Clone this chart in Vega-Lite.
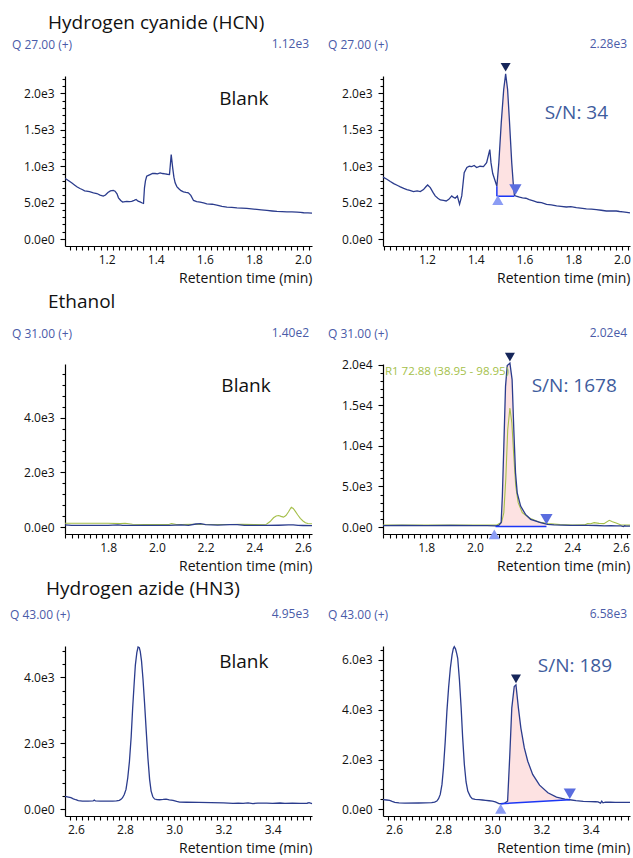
{
"$schema": "https://vega.github.io/schema/vega-lite/v6.json",
"padding": {"left": 10, "top": 14, "right": 2, "bottom": 0},
"bounds": "flush",
"spacing": 288,
"config": {
 "font": "Open Sans",
 "view": {"stroke": null},
 "axis": {"grid": false, "tickCount": 100, "domainColor": "#000", "tickColor": "#000", "labelColor": "#111", "labelFontSize": 12, "labelFont": "Open Sans", "titleFont": "Open Sans", "titleFontWeight": "normal", "titleColor": "#111", "labelOverlap": false, "labelFlush": false, "domainWidth": 1.2, "tickWidth": 1.1},
 "axisX": {"titleAnchor": "end", "titleFontSize": 14, "labelPadding": 4, "titlePadding": 6, "tickSize": 4},
 "axisY": {"labelPadding": 6},
 "title": {"fontWeight": "normal", "color": "#111"}
},
"datasets": {
 "hcn_b": [{"t":1.031,"v":831},{"t":1.045,"v":800},{"t":1.057,"v":772},{"t":1.07,"v":740},{"t":1.08,"v":715},{"t":1.091,"v":694},{"t":1.1,"v":680},{"t":1.11,"v":662},{"t":1.118,"v":657},{"t":1.13,"v":650},{"t":1.146,"v":635},{"t":1.16,"v":625},{"t":1.173,"v":603},{"t":1.186,"v":589},{"t":1.195,"v":605},{"t":1.205,"v":640},{"t":1.215,"v":662},{"t":1.227,"v":667},{"t":1.234,"v":657},{"t":1.242,"v":620},{"t":1.248,"v":566},{"t":1.257,"v":530},{"t":1.265,"v":507},{"t":1.275,"v":515},{"t":1.282,"v":516},{"t":1.292,"v":514},{"t":1.302,"v":516},{"t":1.312,"v":530},{"t":1.32,"v":543},{"t":1.328,"v":520},{"t":1.336,"v":511},{"t":1.345,"v":495},{"t":1.35,"v":489},{"t":1.354,"v":703},{"t":1.358,"v":800},{"t":1.363,"v":863},{"t":1.37,"v":875},{"t":1.377,"v":886},{"t":1.387,"v":900},{"t":1.397,"v":900},{"t":1.407,"v":895},{"t":1.418,"v":909},{"t":1.428,"v":900},{"t":1.438,"v":895},{"t":1.447,"v":890},{"t":1.456,"v":886},{"t":1.463,"v":1160},{"t":1.469,"v":977},{"t":1.474,"v":850},{"t":1.479,"v":772},{"t":1.486,"v":720},{"t":1.493,"v":694},{"t":1.503,"v":665},{"t":1.513,"v":648},{"t":1.523,"v":640},{"t":1.533,"v":635},{"t":1.543,"v":600},{"t":1.554,"v":530},{"t":1.567,"v":515},{"t":1.581,"v":507},{"t":1.595,"v":495},{"t":1.608,"v":484},{"t":1.63,"v":478},{"t":1.649,"v":466},{"t":1.67,"v":448},{"t":1.69,"v":438},{"t":1.71,"v":435},{"t":1.731,"v":429},{"t":1.75,"v":425},{"t":1.771,"v":420},{"t":1.79,"v":415},{"t":1.812,"v":406},{"t":1.83,"v":400},{"t":1.853,"v":393},{"t":1.875,"v":385},{"t":1.894,"v":379},{"t":1.915,"v":376},{"t":1.935,"v":374},{"t":1.955,"v":372},{"t":1.976,"v":370},{"t":1.99,"v":365},{"t":2.003,"v":361},{"t":2.02,"v":358},{"t":2.037,"v":356}],
 "hcn_s": [{"t":1.02,"v":850},{"t":1.036,"v":821},{"t":1.05,"v":790},{"t":1.064,"v":761},{"t":1.08,"v":735},{"t":1.091,"v":716},{"t":1.105,"v":695},{"t":1.118,"v":679},{"t":1.13,"v":668},{"t":1.145,"v":651},{"t":1.16,"v":660},{"t":1.173,"v":651},{"t":1.186,"v":679},{"t":1.195,"v":715},{"t":1.203,"v":743},{"t":1.214,"v":706},{"t":1.225,"v":640},{"t":1.234,"v":592},{"t":1.245,"v":560},{"t":1.255,"v":537},{"t":1.268,"v":530},{"t":1.279,"v":523},{"t":1.29,"v":545},{"t":1.302,"v":592},{"t":1.308,"v":575},{"t":1.316,"v":560},{"t":1.325,"v":590},{"t":1.334,"v":477},{"t":1.343,"v":592},{"t":1.353,"v":913},{"t":1.364,"v":982},{"t":1.374,"v":1000},{"t":1.384,"v":995},{"t":1.394,"v":1010},{"t":1.404,"v":982},{"t":1.418,"v":1000},{"t":1.432,"v":995},{"t":1.445,"v":1050},{"t":1.458,"v":1229},{"t":1.463,"v":1046},{"t":1.47,"v":900},{"t":1.478,"v":817},{"t":1.487,"v":725},{"t":1.495,"v":1046},{"t":1.505,"v":1597},{"t":1.515,"v":2055},{"t":1.523,"v":2270},{"t":1.531,"v":2055},{"t":1.539,"v":1597},{"t":1.548,"v":1046},{"t":1.555,"v":725},{"t":1.559,"v":600},{"t":1.566,"v":588},{"t":1.58,"v":575},{"t":1.592,"v":565},{"t":1.606,"v":560},{"t":1.62,"v":541},{"t":1.637,"v":525},{"t":1.654,"v":505},{"t":1.67,"v":500},{"t":1.691,"v":477},{"t":1.71,"v":470},{"t":1.732,"v":454},{"t":1.75,"v":448},{"t":1.772,"v":440},{"t":1.79,"v":445},{"t":1.813,"v":431},{"t":1.83,"v":425},{"t":1.854,"v":413},{"t":1.875,"v":410},{"t":1.895,"v":404},{"t":1.915,"v":395},{"t":1.936,"v":385},{"t":1.955,"v":388},{"t":1.977,"v":385},{"t":1.99,"v":378},{"t":2.004,"v":372},{"t":2.02,"v":366},{"t":2.033,"v":358}],
 "hcn_peak": [{"t":1.487,"v":725,"base":588},{"t":1.495,"v":1046,"base":588},{"t":1.505,"v":1597,"base":588},{"t":1.515,"v":2055,"base":588},{"t":1.523,"v":2270,"base":588},{"t":1.531,"v":2055,"base":588},{"t":1.539,"v":1597,"base":588},{"t":1.548,"v":1046,"base":588},{"t":1.555,"v":725,"base":588},{"t":1.559,"v":600,"base":588}],
 "hcn_base": [{"t":1.487,"t2":1.559,"v":588,"v2":588},{"t":1.487,"t2":1.487,"v":588,"v2":725}],
 "hcn_mk": [{"t":1.523,"v":2360,"kind":"apex"},{"t":1.491,"v":535,"kind":"start"},{"t":1.563,"v":679,"kind":"end"}],
 "eth_b": [{"t":1.623,"v":80,"s":"main"},{"t":1.65,"v":60,"s":"main"},{"t":1.7,"v":60,"s":"main"},{"t":1.75,"v":60,"s":"main"},{"t":1.8,"v":60,"s":"main"},{"t":1.84,"v":75,"s":"main"},{"t":1.86,"v":60,"s":"main"},{"t":1.9,"v":60,"s":"main"},{"t":1.95,"v":60,"s":"main"},{"t":2.0,"v":60,"s":"main"},{"t":2.05,"v":60,"s":"main"},{"t":2.1,"v":75,"s":"main"},{"t":2.13,"v":60,"s":"main"},{"t":2.16,"v":110,"s":"main"},{"t":2.18,"v":125,"s":"main"},{"t":2.2,"v":90,"s":"main"},{"t":2.25,"v":70,"s":"main"},{"t":2.3,"v":90,"s":"main"},{"t":2.33,"v":85,"s":"main"},{"t":2.36,"v":60,"s":"main"},{"t":2.4,"v":60,"s":"main"},{"t":2.45,"v":60,"s":"main"},{"t":2.5,"v":65,"s":"main"},{"t":2.54,"v":75,"s":"main"},{"t":2.56,"v":80,"s":"main"},{"t":2.58,"v":60,"s":"main"},{"t":2.6,"v":55,"s":"main"},{"t":2.637,"v":50,"s":"main"},
  {"t":1.623,"v":140,"s":"ref"},{"t":1.7,"v":140,"s":"ref"},{"t":1.8,"v":140,"s":"ref"},{"t":1.85,"v":125,"s":"ref"},{"t":1.87,"v":140,"s":"ref"},{"t":1.9,"v":100,"s":"ref"},{"t":1.95,"v":90,"s":"ref"},{"t":2.0,"v":90,"s":"ref"},{"t":2.05,"v":90,"s":"ref"},{"t":2.06,"v":125,"s":"ref"},{"t":2.08,"v":90,"s":"ref"},{"t":2.1,"v":90,"s":"ref"},{"t":2.15,"v":100,"s":"ref"},{"t":2.2,"v":90,"s":"ref"},{"t":2.25,"v":90,"s":"ref"},{"t":2.3,"v":90,"s":"ref"},{"t":2.35,"v":95,"s":"ref"},{"t":2.4,"v":90,"s":"ref"},{"t":2.45,"v":100,"s":"ref"},{"t":2.465,"v":200,"s":"ref"},{"t":2.479,"v":338,"s":"ref"},{"t":2.49,"v":400,"s":"ref"},{"t":2.5,"v":423,"s":"ref"},{"t":2.51,"v":390,"s":"ref"},{"t":2.52,"v":362,"s":"ref"},{"t":2.53,"v":420,"s":"ref"},{"t":2.54,"v":550,"s":"ref"},{"t":2.552,"v":725,"s":"ref"},{"t":2.56,"v":680,"s":"ref"},{"t":2.568,"v":580,"s":"ref"},{"t":2.578,"v":450,"s":"ref"},{"t":2.589,"v":314,"s":"ref"},{"t":2.6,"v":220,"s":"ref"},{"t":2.61,"v":157,"s":"ref"},{"t":2.62,"v":130,"s":"ref"},{"t":2.637,"v":120,"s":"ref"}],
 "eth_s": [{"t":1.623,"v":180,"s":"main"},{"t":1.7,"v":190,"s":"main"},{"t":1.8,"v":180,"s":"main"},{"t":1.9,"v":190,"s":"main"},{"t":2.0,"v":180,"s":"main"},{"t":2.05,"v":170,"s":"main"},{"t":2.085,"v":150,"s":"main"},{"t":2.098,"v":200,"s":"main"},{"t":2.108,"v":530,"s":"main"},{"t":2.113,"v":3810,"s":"main"},{"t":2.119,"v":9960,"s":"main"},{"t":2.126,"v":17340,"s":"main"},{"t":2.133,"v":19900,"s":"main"},{"t":2.144,"v":20200,"s":"main"},{"t":2.153,"v":18170,"s":"main"},{"t":2.16,"v":12000,"s":"main"},{"t":2.167,"v":6680,"s":"main"},{"t":2.174,"v":4220,"s":"main"},{"t":2.188,"v":2580,"s":"main"},{"t":2.208,"v":1560,"s":"main"},{"t":2.229,"v":950,"s":"main"},{"t":2.27,"v":530,"s":"main"},{"t":2.298,"v":330,"s":"main"},{"t":2.325,"v":260,"s":"main"},{"t":2.36,"v":230,"s":"main"},{"t":2.394,"v":210,"s":"main"},{"t":2.43,"v":215,"s":"main"},{"t":2.463,"v":205,"s":"main"},{"t":2.5,"v":190,"s":"main"},{"t":2.531,"v":150,"s":"main"},{"t":2.56,"v":160,"s":"main"},{"t":2.58,"v":130,"s":"main"},{"t":2.6,"v":140,"s":"main"},{"t":2.61,"v":60,"s":"main"},{"t":2.615,"v":150,"s":"main"},{"t":2.62,"v":110,"s":"main"},{"t":2.637,"v":120,"s":"main"},
  {"t":1.623,"v":250,"s":"ref"},{"t":1.8,"v":250,"s":"ref"},{"t":2.0,"v":250,"s":"ref"},{"t":2.09,"v":240,"s":"ref"},{"t":2.11,"v":600,"s":"ref"},{"t":2.119,"v":1760,"s":"ref"},{"t":2.127,"v":5870,"s":"ref"},{"t":2.135,"v":12000,"s":"ref"},{"t":2.144,"v":14670,"s":"ref"},{"t":2.152,"v":12830,"s":"ref"},{"t":2.16,"v":8730,"s":"ref"},{"t":2.168,"v":5040,"s":"ref"},{"t":2.178,"v":3000,"s":"ref"},{"t":2.195,"v":1760,"s":"ref"},{"t":2.222,"v":1150,"s":"ref"},{"t":2.263,"v":620,"s":"ref"},{"t":2.3,"v":420,"s":"ref"},{"t":2.35,"v":300,"s":"ref"},{"t":2.4,"v":250,"s":"ref"},{"t":2.45,"v":260,"s":"ref"},{"t":2.463,"v":415,"s":"ref"},{"t":2.475,"v":400,"s":"ref"},{"t":2.49,"v":540,"s":"ref"},{"t":2.51,"v":450,"s":"ref"},{"t":2.53,"v":420,"s":"ref"},{"t":2.552,"v":830,"s":"ref"},{"t":2.565,"v":650,"s":"ref"},{"t":2.58,"v":500,"s":"ref"},{"t":2.6,"v":250,"s":"ref"},{"t":2.637,"v":230,"s":"ref"}],
 "eth_peak": [{"t":2.085,"v":150,"base":60},{"t":2.098,"v":200,"base":60},{"t":2.108,"v":530,"base":60},{"t":2.113,"v":3810,"base":60},{"t":2.119,"v":9960,"base":60},{"t":2.126,"v":17340,"base":60},{"t":2.133,"v":19900,"base":60},{"t":2.144,"v":20200,"base":60},{"t":2.153,"v":18170,"base":60},{"t":2.16,"v":12000,"base":60},{"t":2.167,"v":6680,"base":60},{"t":2.174,"v":4220,"base":60},{"t":2.188,"v":2580,"base":60},{"t":2.208,"v":1560,"base":60},{"t":2.229,"v":950,"base":60},{"t":2.27,"v":530,"base":60},{"t":2.294,"v":340,"base":60}],
 "eth_base": [{"t":2.085,"t2":2.294,"v":60,"v2":60}],
 "eth_mk": [{"t":2.144,"v":20950,"kind":"apex"},{"t":2.08,"v":-900,"kind":"start"},{"t":2.294,"v":950,"kind":"end"}],
 "hn3_b": [{"t":2.556,"v":392},{"t":2.57,"v":370},{"t":2.58,"v":352},{"t":2.59,"v":320},{"t":2.6,"v":291},{"t":2.61,"v":265},{"t":2.627,"v":251},{"t":2.65,"v":250},{"t":2.67,"v":255},{"t":2.675,"v":280},{"t":2.68,"v":255},{"t":2.7,"v":251},{"t":2.72,"v":250},{"t":2.75,"v":251},{"t":2.765,"v":255},{"t":2.777,"v":271},{"t":2.785,"v":310},{"t":2.79,"v":352},{"t":2.797,"v":450},{"t":2.804,"v":603},{"t":2.811,"v":950},{"t":2.818,"v":1457},{"t":2.825,"v":2200},{"t":2.831,"v":3065},{"t":2.837,"v":3800},{"t":2.842,"v":4372},{"t":2.848,"v":4750},{"t":2.853,"v":4920},{"t":2.858,"v":4900},{"t":2.862,"v":4780},{"t":2.867,"v":4500},{"t":2.873,"v":3950},{"t":2.879,"v":3266},{"t":2.886,"v":2400},{"t":2.893,"v":1558},{"t":2.9,"v":900},{"t":2.906,"v":553},{"t":2.913,"v":380},{"t":2.92,"v":312},{"t":2.93,"v":295},{"t":2.94,"v":291},{"t":2.955,"v":300},{"t":2.967,"v":312},{"t":2.98,"v":290},{"t":2.995,"v":271},{"t":3.01,"v":240},{"t":3.022,"v":221},{"t":3.05,"v":215},{"t":3.1,"v":211},{"t":3.15,"v":205},{"t":3.2,"v":195},{"t":3.239,"v":181},{"t":3.26,"v":190},{"t":3.28,"v":180},{"t":3.3,"v":195},{"t":3.32,"v":175},{"t":3.34,"v":190},{"t":3.376,"v":191},{"t":3.4,"v":180},{"t":3.43,"v":192},{"t":3.45,"v":178},{"t":3.48,"v":190},{"t":3.512,"v":181},{"t":3.54,"v":185},{"t":3.548,"v":200},{"t":3.56,"v":171}],
 "hn3_s": [{"t":2.555,"v":387},{"t":2.57,"v":375},{"t":2.582,"v":360},{"t":2.592,"v":320},{"t":2.603,"v":280},{"t":2.62,"v":260},{"t":2.644,"v":253},{"t":2.7,"v":255},{"t":2.753,"v":267},{"t":2.765,"v":290},{"t":2.774,"v":333},{"t":2.781,"v":430},{"t":2.788,"v":600},{"t":2.795,"v":1000},{"t":2.801,"v":1667},{"t":2.808,"v":2700},{"t":2.815,"v":3933},{"t":2.822,"v":4900},{"t":2.829,"v":5667},{"t":2.836,"v":6200},{"t":2.841,"v":6450},{"t":2.845,"v":6533},{"t":2.85,"v":6450},{"t":2.855,"v":6250},{"t":2.859,"v":6067},{"t":2.866,"v":5200},{"t":2.873,"v":4067},{"t":2.879,"v":2900},{"t":2.886,"v":1800},{"t":2.893,"v":1100},{"t":2.9,"v":733},{"t":2.91,"v":520},{"t":2.918,"v":427},{"t":2.93,"v":400},{"t":2.945,"v":387},{"t":2.96,"v":375},{"t":2.973,"v":360},{"t":2.987,"v":345},{"t":3.0,"v":333},{"t":3.012,"v":300},{"t":3.027,"v":227},{"t":3.034,"v":224},{"t":3.048,"v":235},{"t":3.062,"v":332},{"t":3.071,"v":2200},{"t":3.079,"v":4064},{"t":3.089,"v":4932},{"t":3.096,"v":5000},{"t":3.106,"v":4064},{"t":3.116,"v":3264},{"t":3.13,"v":2464},{"t":3.144,"v":1932},{"t":3.164,"v":1400},{"t":3.192,"v":972},{"t":3.226,"v":664},{"t":3.261,"v":492},{"t":3.295,"v":412},{"t":3.315,"v":384},{"t":3.34,"v":350},{"t":3.37,"v":320},{"t":3.4,"v":310},{"t":3.42,"v":305},{"t":3.43,"v":300},{"t":3.44,"v":250},{"t":3.445,"v":330},{"t":3.45,"v":260},{"t":3.46,"v":290},{"t":3.48,"v":285},{"t":3.5,"v":280},{"t":3.53,"v":280},{"t":3.56,"v":280}],
 "hn3_peak": [{"t":3.034,"v":224,"base":224},{"t":3.048,"v":235,"base":232},{"t":3.062,"v":332,"base":240},{"t":3.071,"v":2200,"base":245},{"t":3.079,"v":4064,"base":250},{"t":3.089,"v":4932,"base":255},{"t":3.096,"v":5000,"base":259},{"t":3.106,"v":4064,"base":265},{"t":3.116,"v":3264,"base":271},{"t":3.13,"v":2464,"base":279},{"t":3.144,"v":1932,"base":287},{"t":3.164,"v":1400,"base":298},{"t":3.192,"v":972,"base":314},{"t":3.226,"v":664,"base":333},{"t":3.261,"v":492,"base":353},{"t":3.295,"v":412,"base":373},{"t":3.315,"v":384,"base":384}],
 "hn3_base": [{"t":3.034,"t2":3.315,"v":224,"v2":384}],
 "hn3_mk": [{"t":3.096,"v":5240,"kind":"apex"},{"t":3.034,"v":20,"kind":"start"},{"t":3.315,"v":624,"kind":"end"}]
},
"vconcat": [
 {
  "title": {"text": "Hydrogen cyanide (HCN)", "anchor": "start", "baseline": "middle", "fontSize": 19, "fontWeight": "normal", "color": "#111", "dx": 36, "offset": -4},
  "bounds": "flush",
  "spacing": 71,
  "hconcat": [
   {
    "width": 247, "height": 170,
    "title": {"text": "Q 27.00 (+)", "anchor": "start", "frame": "group", "baseline": "middle", "dx": -53, "offset": -19, "fontSize": 12, "fontWeight": "normal", "color": "#4a5ba8"},
    "layer": [
     {"data": {"name": "hcn_b"}, "mark": {"type": "line", "color": "#2b3c8d", "strokeWidth": 1.3},
      "encoding": {
       "x": {"field": "t", "type": "quantitative", "title": "Retention time (min)", "scale": {"domain": [1.03, 2.037], "nice": false, "zero": false}, "axis": {"tickCount": 100, "values": [1.05,1.075,1.1,1.125,1.15,1.175,1.2,1.225,1.25,1.275,1.3,1.325,1.35,1.375,1.4,1.425,1.45,1.475,1.5,1.525,1.55,1.575,1.6,1.625,1.65,1.675,1.7,1.725,1.75,1.775,1.8,1.825,1.85,1.875,1.9,1.925,1.95,1.975,2.0,2.025], "labelExpr": "abs(datum.value * 5 - round(datum.value * 5)) < 0.001 ? format(datum.value, '.1f') : ''"}},
       "y": {"field": "v", "type": "quantitative", "title": null, "scale": {"domain": [-96, 2240], "nice": false, "zero": false}, "axis": {"tickCount": 100, "values": [0,100,200,300,400,500,600,700,800,900,1000,1100,1200,1300,1400,1500,1600,1700,1800,1900,2000,2100,2200], "labelExpr": "datum.value % 500 === 0 ? replace(format(datum.value, '.1e'), '+', '') : ''", "tickSize": {"condition": {"test": "datum.value % 500 === 0", "value": 5}, "value": 3}}}
      }},
     {"data": {"values": [{"label": "Blank"}]}, "mark": {"type": "text", "fontSize": 19, "color": "#111"}, "encoding": {"x": {"datum": 1.759, "type": "quantitative"}, "y": {"datum": 1927, "type": "quantitative"}, "text": {"field": "label", "type": "nominal"}}},
     {"data": {"values": [{"label": "1.12e3"}]}, "mark": {"type": "text", "fontSize": 12, "color": "#4a5ba8", "align": "right", "baseline": "middle", "dy": -32, "dx": -3}, "encoding": {"x": {"datum": 2.037, "type": "quantitative"}, "y": {"datum": 2240, "type": "quantitative"}, "text": {"field": "label", "type": "nominal"}}}
    ]
   },
   {
    "width": 247, "height": 170,
    "title": {"text": "Q 27.00 (+)", "anchor": "start", "frame": "group", "baseline": "middle", "dx": -55, "offset": -19, "fontSize": 12, "fontWeight": "normal", "color": "#4a5ba8"},
    "layer": [
     {"data": {"name": "hcn_peak"}, "mark": {"type": "area", "color": "#fde2e2"}, "encoding": {"x": {"field": "t", "type": "quantitative", "title": "Retention time (min)"}, "y": {"field": "v", "type": "quantitative", "title": null}, "y2": {"field": "base", "title": null}}},
     {"data": {"name": "hcn_s"}, "mark": {"type": "line", "color": "#2b3c8d", "strokeWidth": 1.3},
      "encoding": {
       "x": {"field": "t", "type": "quantitative", "title": "Retention time (min)", "scale": {"domain": [1.02, 2.033], "nice": false, "zero": false}, "axis": {"tickCount": 100, "values": [1.025,1.05,1.075,1.1,1.125,1.15,1.175,1.2,1.225,1.25,1.275,1.3,1.325,1.35,1.375,1.4,1.425,1.45,1.475,1.5,1.525,1.55,1.575,1.6,1.625,1.65,1.675,1.7,1.725,1.75,1.775,1.8,1.825,1.85,1.875,1.9,1.925,1.95,1.975,2.0,2.025], "labelExpr": "abs(datum.value * 5 - round(datum.value * 5)) < 0.001 ? format(datum.value, '.1f') : ''"}},
       "y": {"field": "v", "type": "quantitative", "title": null, "scale": {"domain": [-96, 2240], "nice": false, "zero": false}, "axis": {"tickCount": 100, "values": [0,100,200,300,400,500,600,700,800,900,1000,1100,1200,1300,1400,1500,1600,1700,1800,1900,2000,2100,2200], "labelExpr": "datum.value % 500 === 0 ? replace(format(datum.value, '.1e'), '+', '') : ''", "tickSize": {"condition": {"test": "datum.value % 500 === 0", "value": 5}, "value": 3}}}
      }},
     {"data": {"name": "hcn_base"}, "mark": {"type": "rule", "color": "#1c37f5", "strokeWidth": 1.5}, "encoding": {"x": {"field": "t", "type": "quantitative", "title": "Retention time (min)"}, "y": {"field": "v", "type": "quantitative", "title": null}, "x2": {"field": "t2", "title": null}, "y2": {"field": "v2", "title": null}}},
     {"data": {"name": "hcn_mk"}, "mark": {"type": "point", "filled": true, "opacity": 1}, "encoding": {"x": {"field": "t", "type": "quantitative", "title": "Retention time (min)"}, "y": {"field": "v", "type": "quantitative", "title": null}, "shape": {"field": "kind", "type": "nominal", "scale": {"domain": ["apex","start","end"], "range": ["triangle-down","triangle-up","triangle-down"]}, "legend": null}, "color": {"field": "kind", "type": "nominal", "scale": {"domain": ["apex","start","end"], "range": ["#16265a","#8b9cf4","#5a6ddf"]}, "legend": null}, "size": {"field": "kind", "type": "nominal", "scale": {"domain": ["apex","start","end"], "range": [100,150,140]}, "legend": null}}},
     {"data": {"values": [{"label": "S/N: 34"}]}, "mark": {"type": "text", "fontSize": 19, "color": "#3e5c9d"}, "encoding": {"x": {"datum": 1.813, "type": "quantitative"}, "y": {"datum": 1734, "type": "quantitative"}, "text": {"field": "label", "type": "nominal"}}},
     {"data": {"values": [{"label": "2.28e3"}]}, "mark": {"type": "text", "fontSize": 12, "color": "#4a5ba8", "align": "right", "baseline": "middle", "dy": -32, "dx": -3}, "encoding": {"x": {"datum": 2.033, "type": "quantitative"}, "y": {"datum": 2240, "type": "quantitative"}, "text": {"field": "label", "type": "nominal"}}}
    ]
   }
  ]
 },
 {
  "bounds": "flush",
  "spacing": 282,
  "vconcat": [
   {
    "title": {"text": "Ethanol", "anchor": "start", "baseline": "middle", "fontSize": 19, "fontWeight": "normal", "color": "#111", "dx": 36, "offset": 6},
    "bounds": "flush",
    "spacing": 71,
    "hconcat": [
     {
      "width": 247, "height": 170,
      "title": {"text": "Q 31.00 (+)", "anchor": "start", "frame": "group", "baseline": "middle", "dx": -53, "offset": -19, "fontSize": 12, "fontWeight": "normal", "color": "#4a5ba8"},
      "layer": [
       {"data": {"name": "eth_b"}, "transform": [{"filter": "datum.s === 'ref'"}], "mark": {"type": "line", "color": "#a5bf4a", "strokeWidth": 1.1}, "encoding": {"x": {"field": "t", "type": "quantitative", "title": "Retention time (min)"}, "y": {"field": "v", "type": "quantitative", "title": null}}},
       {"data": {"name": "eth_b"}, "transform": [{"filter": "datum.s === 'main'"}], "mark": {"type": "line", "color": "#2b3c8d", "strokeWidth": 1.3},
        "encoding": {
         "x": {"field": "t", "type": "quantitative", "title": "Retention time (min)", "scale": {"domain": [1.623, 2.637], "nice": false, "zero": false}, "axis": {"tickCount": 100, "values": [1.625,1.65,1.675,1.7,1.725,1.75,1.775,1.8,1.825,1.85,1.875,1.9,1.925,1.95,1.975,2.0,2.025,2.05,2.075,2.1,2.125,2.15,2.175,2.2,2.225,2.25,2.275,2.3,2.325,2.35,2.375,2.4,2.425,2.45,2.475,2.5,2.525,2.55,2.575,2.6,2.625], "labelExpr": "abs(datum.value * 5 - round(datum.value * 5)) < 0.001 ? format(datum.value, '.1f') : ''"}},
         "y": {"field": "v", "type": "quantitative", "title": null, "scale": {"domain": [-256, 5970], "nice": false, "zero": false}, "axis": {"tickCount": 100, "values": [0,400,800,1200,1600,2000,2400,2800,3200,3600,4000,4400,4800,5200,5600], "labelExpr": "datum.value % 2000 === 0 ? replace(format(datum.value, '.1e'), '+', '') : ''", "tickSize": {"condition": {"test": "datum.value % 2000 === 0", "value": 5}, "value": 3}}}
        }},
       {"data": {"values": [{"label": "Blank"}]}, "mark": {"type": "text", "fontSize": 19, "color": "#111"}, "encoding": {"x": {"datum": 2.366, "type": "quantitative"}, "y": {"datum": 5160, "type": "quantitative"}, "text": {"field": "label", "type": "nominal"}}},
       {"data": {"values": [{"label": "1.40e2"}]}, "mark": {"type": "text", "fontSize": 12, "color": "#4a5ba8", "align": "right", "baseline": "middle", "dy": -31, "dx": -3}, "encoding": {"x": {"datum": 2.637, "type": "quantitative"}, "y": {"datum": 5970, "type": "quantitative"}, "text": {"field": "label", "type": "nominal"}}}
      ]
     },
     {
      "width": 247, "height": 170,
      "title": {"text": "Q 31.00 (+)", "anchor": "start", "frame": "group", "baseline": "middle", "dx": -55, "offset": -19, "fontSize": 12, "fontWeight": "normal", "color": "#4a5ba8"},
      "layer": [
       {"data": {"name": "eth_peak"}, "mark": {"type": "area", "color": "#fde2e2"}, "encoding": {"x": {"field": "t", "type": "quantitative", "title": "Retention time (min)"}, "y": {"field": "v", "type": "quantitative", "title": null}, "y2": {"field": "base", "title": null}}},
       {"data": {"name": "eth_s"}, "transform": [{"filter": "datum.s === 'ref'"}], "mark": {"type": "line", "color": "#a5bf4a", "strokeWidth": 1.1}, "encoding": {"x": {"field": "t", "type": "quantitative", "title": "Retention time (min)"}, "y": {"field": "v", "type": "quantitative", "title": null}}},
       {"data": {"name": "eth_s"}, "transform": [{"filter": "datum.s === 'main'"}], "mark": {"type": "line", "color": "#2b3c8d", "strokeWidth": 1.3},
        "encoding": {
         "x": {"field": "t", "type": "quantitative", "title": "Retention time (min)", "scale": {"domain": [1.623, 2.637], "nice": false, "zero": false}, "axis": {"tickCount": 100, "values": [1.625,1.65,1.675,1.7,1.725,1.75,1.775,1.8,1.825,1.85,1.875,1.9,1.925,1.95,1.975,2.0,2.025,2.05,2.075,2.1,2.125,2.15,2.175,2.2,2.225,2.25,2.275,2.3,2.325,2.35,2.375,2.4,2.425,2.45,2.475,2.5,2.525,2.55,2.575,2.6,2.625], "labelExpr": "abs(datum.value * 5 - round(datum.value * 5)) < 0.001 ? format(datum.value, '.1f') : ''"}},
         "y": {"field": "v", "type": "quantitative", "title": null, "scale": {"domain": [-860, 20100], "nice": false, "zero": false}, "axis": {"tickCount": 100, "values": [0,1000,2000,3000,4000,5000,6000,7000,8000,9000,10000,11000,12000,13000,14000,15000,16000,17000,18000,19000,20000], "labelExpr": "datum.value % 5000 === 0 ? replace(format(datum.value, '.1e'), '+', '') : ''", "tickSize": {"condition": {"test": "datum.value % 5000 === 0", "value": 5}, "value": 3}}}
        }},
       {"data": {"name": "eth_base"}, "mark": {"type": "rule", "color": "#1c37f5", "strokeWidth": 1.5}, "encoding": {"x": {"field": "t", "type": "quantitative", "title": "Retention time (min)"}, "y": {"field": "v", "type": "quantitative", "title": null}, "x2": {"field": "t2", "title": null}, "y2": {"field": "v2", "title": null}}},
       {"data": {"name": "eth_mk"}, "mark": {"type": "point", "filled": true, "opacity": 1}, "encoding": {"x": {"field": "t", "type": "quantitative", "title": "Retention time (min)"}, "y": {"field": "v", "type": "quantitative", "title": null}, "shape": {"field": "kind", "type": "nominal", "scale": {"domain": ["apex","start","end"], "range": ["triangle-down","triangle-up","triangle-down"]}, "legend": null}, "color": {"field": "kind", "type": "nominal", "scale": {"domain": ["apex","start","end"], "range": ["#16265a","#8b9cf4","#5a6ddf"]}, "legend": null}, "size": {"field": "kind", "type": "nominal", "scale": {"domain": ["apex","start","end"], "range": [100,150,140]}, "legend": null}}},
       {"data": {"values": [{"label": "R1 72.88 (38.95 - 98.95)"}]}, "mark": {"type": "text", "fontSize": 11.5, "color": "#a5bf4a", "align": "left", "baseline": "middle"}, "encoding": {"x": {"datum": 1.631, "type": "quantitative"}, "y": {"datum": 19065, "type": "quantitative"}, "text": {"field": "label", "type": "nominal"}}},
       {"data": {"values": [{"label": "S/N: 1678"}]}, "mark": {"type": "text", "fontSize": 19, "color": "#3e5c9d"}, "encoding": {"x": {"datum": 2.408, "type": "quantitative"}, "y": {"datum": 17340, "type": "quantitative"}, "text": {"field": "label", "type": "nominal"}}},
       {"data": {"values": [{"label": "2.02e4"}]}, "mark": {"type": "text", "fontSize": 12, "color": "#4a5ba8", "align": "right", "baseline": "middle", "dy": -31, "dx": -3}, "encoding": {"x": {"datum": 2.637, "type": "quantitative"}, "y": {"datum": 20100, "type": "quantitative"}, "text": {"field": "label", "type": "nominal"}}}
      ]
     }
    ]
   },
   {
    "title": {"text": "Hydrogen azide (HN3)", "anchor": "start", "baseline": "middle", "fontSize": 19, "fontWeight": "normal", "color": "#111", "dx": 36, "offset": 0},
    "bounds": "flush",
    "spacing": 71,
    "hconcat": [
     {
      "width": 247, "height": 170,
      "title": {"text": "Q 43.00 (+)", "anchor": "start", "frame": "group", "baseline": "middle", "dx": -55, "offset": -19, "fontSize": 12, "fontWeight": "normal", "color": "#4a5ba8"},
      "layer": [
       {"data": {"name": "hn3_b"}, "mark": {"type": "line", "color": "#2b3c8d", "strokeWidth": 1.3},
        "encoding": {
         "x": {"field": "t", "type": "quantitative", "title": "Retention time (min)", "scale": {"domain": [2.556, 3.56], "nice": false, "zero": false}, "axis": {"tickCount": 100, "values": [2.575,2.6,2.625,2.65,2.675,2.7,2.725,2.75,2.775,2.8,2.825,2.85,2.875,2.9,2.925,2.95,2.975,3.0,3.025,3.05,3.075,3.1,3.125,3.15,3.175,3.2,3.225,3.25,3.275,3.3,3.325,3.35,3.375,3.4,3.425,3.45,3.475,3.5,3.525,3.55], "labelExpr": "abs(datum.value * 5 - round(datum.value * 5)) < 0.001 ? format(datum.value, '.1f') : ''"}},
         "y": {"field": "v", "type": "quantitative", "title": null, "scale": {"domain": [-202, 4950], "nice": false, "zero": false}, "axis": {"tickCount": 100, "values": [0,400,800,1200,1600,2000,2400,2800,3200,3600,4000,4400,4800], "labelExpr": "datum.value % 2000 === 0 ? replace(format(datum.value, '.1e'), '+', '') : ''", "tickSize": {"condition": {"test": "datum.value % 2000 === 0", "value": 5}, "value": 3}}}
        }},
       {"data": {"values": [{"label": "Blank"}]}, "mark": {"type": "text", "fontSize": 19, "color": "#111"}, "encoding": {"x": {"datum": 3.283, "type": "quantitative"}, "y": {"datum": 4474, "type": "quantitative"}, "text": {"field": "label", "type": "nominal"}}},
       {"data": {"values": [{"label": "4.95e3"}]}, "mark": {"type": "text", "fontSize": 12, "color": "#4a5ba8", "align": "right", "baseline": "middle", "dy": -32, "dx": -3}, "encoding": {"x": {"datum": 3.56, "type": "quantitative"}, "y": {"datum": 4950, "type": "quantitative"}, "text": {"field": "label", "type": "nominal"}}}
      ]
     },
     {
      "width": 247, "height": 170,
      "title": {"text": "Q 43.00 (+)", "anchor": "start", "frame": "group", "baseline": "middle", "dx": -55, "offset": -19, "fontSize": 12, "fontWeight": "normal", "color": "#4a5ba8"},
      "layer": [
       {"data": {"name": "hn3_peak"}, "mark": {"type": "area", "color": "#fde2e2"}, "encoding": {"x": {"field": "t", "type": "quantitative", "title": "Retention time (min)"}, "y": {"field": "v", "type": "quantitative", "title": null}, "y2": {"field": "base", "title": null}}},
       {"data": {"name": "hn3_s"}, "mark": {"type": "line", "color": "#2b3c8d", "strokeWidth": 1.3},
        "encoding": {
         "x": {"field": "t", "type": "quantitative", "title": "Retention time (min)", "scale": {"domain": [2.555, 3.56], "nice": false, "zero": false}, "axis": {"tickCount": 100, "values": [2.575,2.6,2.625,2.65,2.675,2.7,2.725,2.75,2.775,2.8,2.825,2.85,2.875,2.9,2.925,2.95,2.975,3.0,3.025,3.05,3.075,3.1,3.125,3.15,3.175,3.2,3.225,3.25,3.275,3.3,3.325,3.35,3.375,3.4,3.425,3.45,3.475,3.5,3.525,3.55], "labelExpr": "abs(datum.value * 5 - round(datum.value * 5)) < 0.001 ? format(datum.value, '.1f') : ''"}},
         "y": {"field": "v", "type": "quantitative", "title": null, "scale": {"domain": [-268, 6560], "nice": false, "zero": false}, "axis": {"tickCount": 100, "values": [0,400,800,1200,1600,2000,2400,2800,3200,3600,4000,4400,4800,5200,5600,6000,6400], "labelExpr": "datum.value % 2000 === 0 ? replace(format(datum.value, '.1e'), '+', '') : ''", "tickSize": {"condition": {"test": "datum.value % 2000 === 0", "value": 5}, "value": 3}}}
        }},
       {"data": {"name": "hn3_base"}, "mark": {"type": "rule", "color": "#1c37f5", "strokeWidth": 1.5}, "encoding": {"x": {"field": "t", "type": "quantitative", "title": "Retention time (min)"}, "y": {"field": "v", "type": "quantitative", "title": null}, "x2": {"field": "t2", "title": null}, "y2": {"field": "v2", "title": null}}},
       {"data": {"name": "hn3_mk"}, "mark": {"type": "point", "filled": true, "opacity": 1}, "encoding": {"x": {"field": "t", "type": "quantitative", "title": "Retention time (min)"}, "y": {"field": "v", "type": "quantitative", "title": null}, "shape": {"field": "kind", "type": "nominal", "scale": {"domain": ["apex","start","end"], "range": ["triangle-down","triangle-up","triangle-down"]}, "legend": null}, "color": {"field": "kind", "type": "nominal", "scale": {"domain": ["apex","start","end"], "range": ["#16265a","#8b9cf4","#5a6ddf"]}, "legend": null}, "size": {"field": "kind", "type": "nominal", "scale": {"domain": ["apex","start","end"], "range": [100,150,140]}, "legend": null}}},
       {"data": {"values": [{"label": "S/N: 189"}]}, "mark": {"type": "text", "fontSize": 19, "color": "#3e5c9d"}, "encoding": {"x": {"datum": 3.336, "type": "quantitative"}, "y": {"datum": 5772, "type": "quantitative"}, "text": {"field": "label", "type": "nominal"}}},
       {"data": {"values": [{"label": "6.58e3"}]}, "mark": {"type": "text", "fontSize": 12, "color": "#4a5ba8", "align": "right", "baseline": "middle", "dy": -32, "dx": -3}, "encoding": {"x": {"datum": 3.56, "type": "quantitative"}, "y": {"datum": 6560, "type": "quantitative"}, "text": {"field": "label", "type": "nominal"}}}
      ]
     }
    ]
   }
  ]
 }
]
}
